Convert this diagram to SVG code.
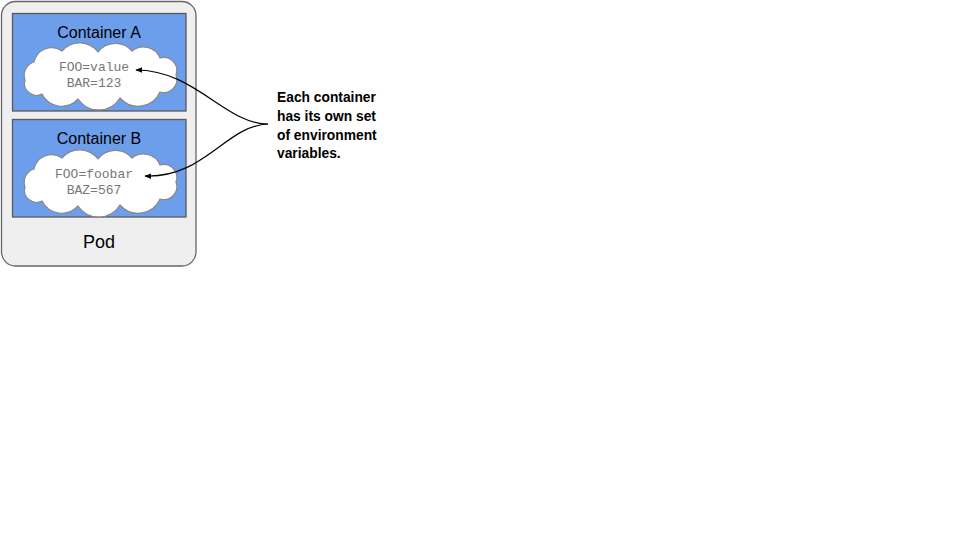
<svg xmlns="http://www.w3.org/2000/svg" width="960" height="540" viewBox="0 0 960 540">
<style>
.pod{fill:#efefef;stroke:#666;stroke-width:1.3}
.ctr{fill:#6d9eeb;stroke:#595959;stroke-width:1.3}
.cloud{fill:#fff;stroke:#888;stroke-width:1.2}
.title{font-family:"Liberation Sans",Arial,sans-serif;font-size:16px;fill:#000;text-anchor:middle}
.env{font-family:"Liberation Mono","Courier New",monospace;font-size:13px;fill:#777;text-anchor:middle}
.note{font-family:"Liberation Sans",Arial,sans-serif;font-size:13.8px;font-weight:bold;fill:#000}
.conn{fill:none;stroke:#000;stroke-width:1.2;marker-end:url(#ah)}
</style>
<defs>
<marker id="ah" viewBox="0 0 10 10" refX="9" refY="5" markerWidth="7" markerHeight="7" markerUnits="userSpaceOnUse" orient="auto">
<path d="M0,1 L10,5 L0,9 z" fill="#000"/>
</marker>
<path id="cloudShape" d="M 25,80 A 14 14 0 0 1 34,62 A 18 18 0 0 1 62,51 A 23 23 0 0 1 98,52 A 22 22 0 0 1 132,51 A 18 18 0 0 1 160,58 A 13 13 0 0 1 176,75 A 13 13 0 0 1 160,92 A 24 24 0 0 1 120,98 A 25 25 0 0 1 78,99 A 22 22 0 0 1 42,94 A 12 12 0 0 1 25,80 Z"/>
</defs>
<g id="pod">
<rect class="pod" x="1.5" y="1.5" width="194.5" height="264.5" rx="14"/>
<text class="title" x="99" y="248" style="font-size:18px">Pod</text>
</g>
<g id="containerA">
<rect class="ctr" x="12.5" y="13.5" width="173.5" height="97.5"/>
<text class="title" x="99" y="38">Container A</text>
<use href="#cloudShape" class="cloud"/>
<text class="env" x="94" y="71">FOO=value</text>
<text class="env" x="94" y="87">BAR=123</text>
</g>
<g id="containerB">
<rect class="ctr" x="12.5" y="119.5" width="173.5" height="97.5"/>
<text class="title" x="99" y="144">Container B</text>
<use href="#cloudShape" class="cloud" transform="translate(0,107)"/>
<text class="env" x="94" y="178">FOO=foobar</text>
<text class="env" x="94" y="194">BAZ=567</text>
</g>
<g id="note">
<text class="note" x="277" y="102">Each container</text>
<text class="note" x="277" y="121">has its own set</text>
<text class="note" x="277" y="140">of environment</text>
<text class="note" x="277" y="158">variables.</text>
</g>
<g id="connectors">
<path class="conn" d="M 268,124 C 225,124 195,70 136,70"/>
<path class="conn" d="M 268,124 C 225,126 205,178 145,176"/>
</g>
</svg>
